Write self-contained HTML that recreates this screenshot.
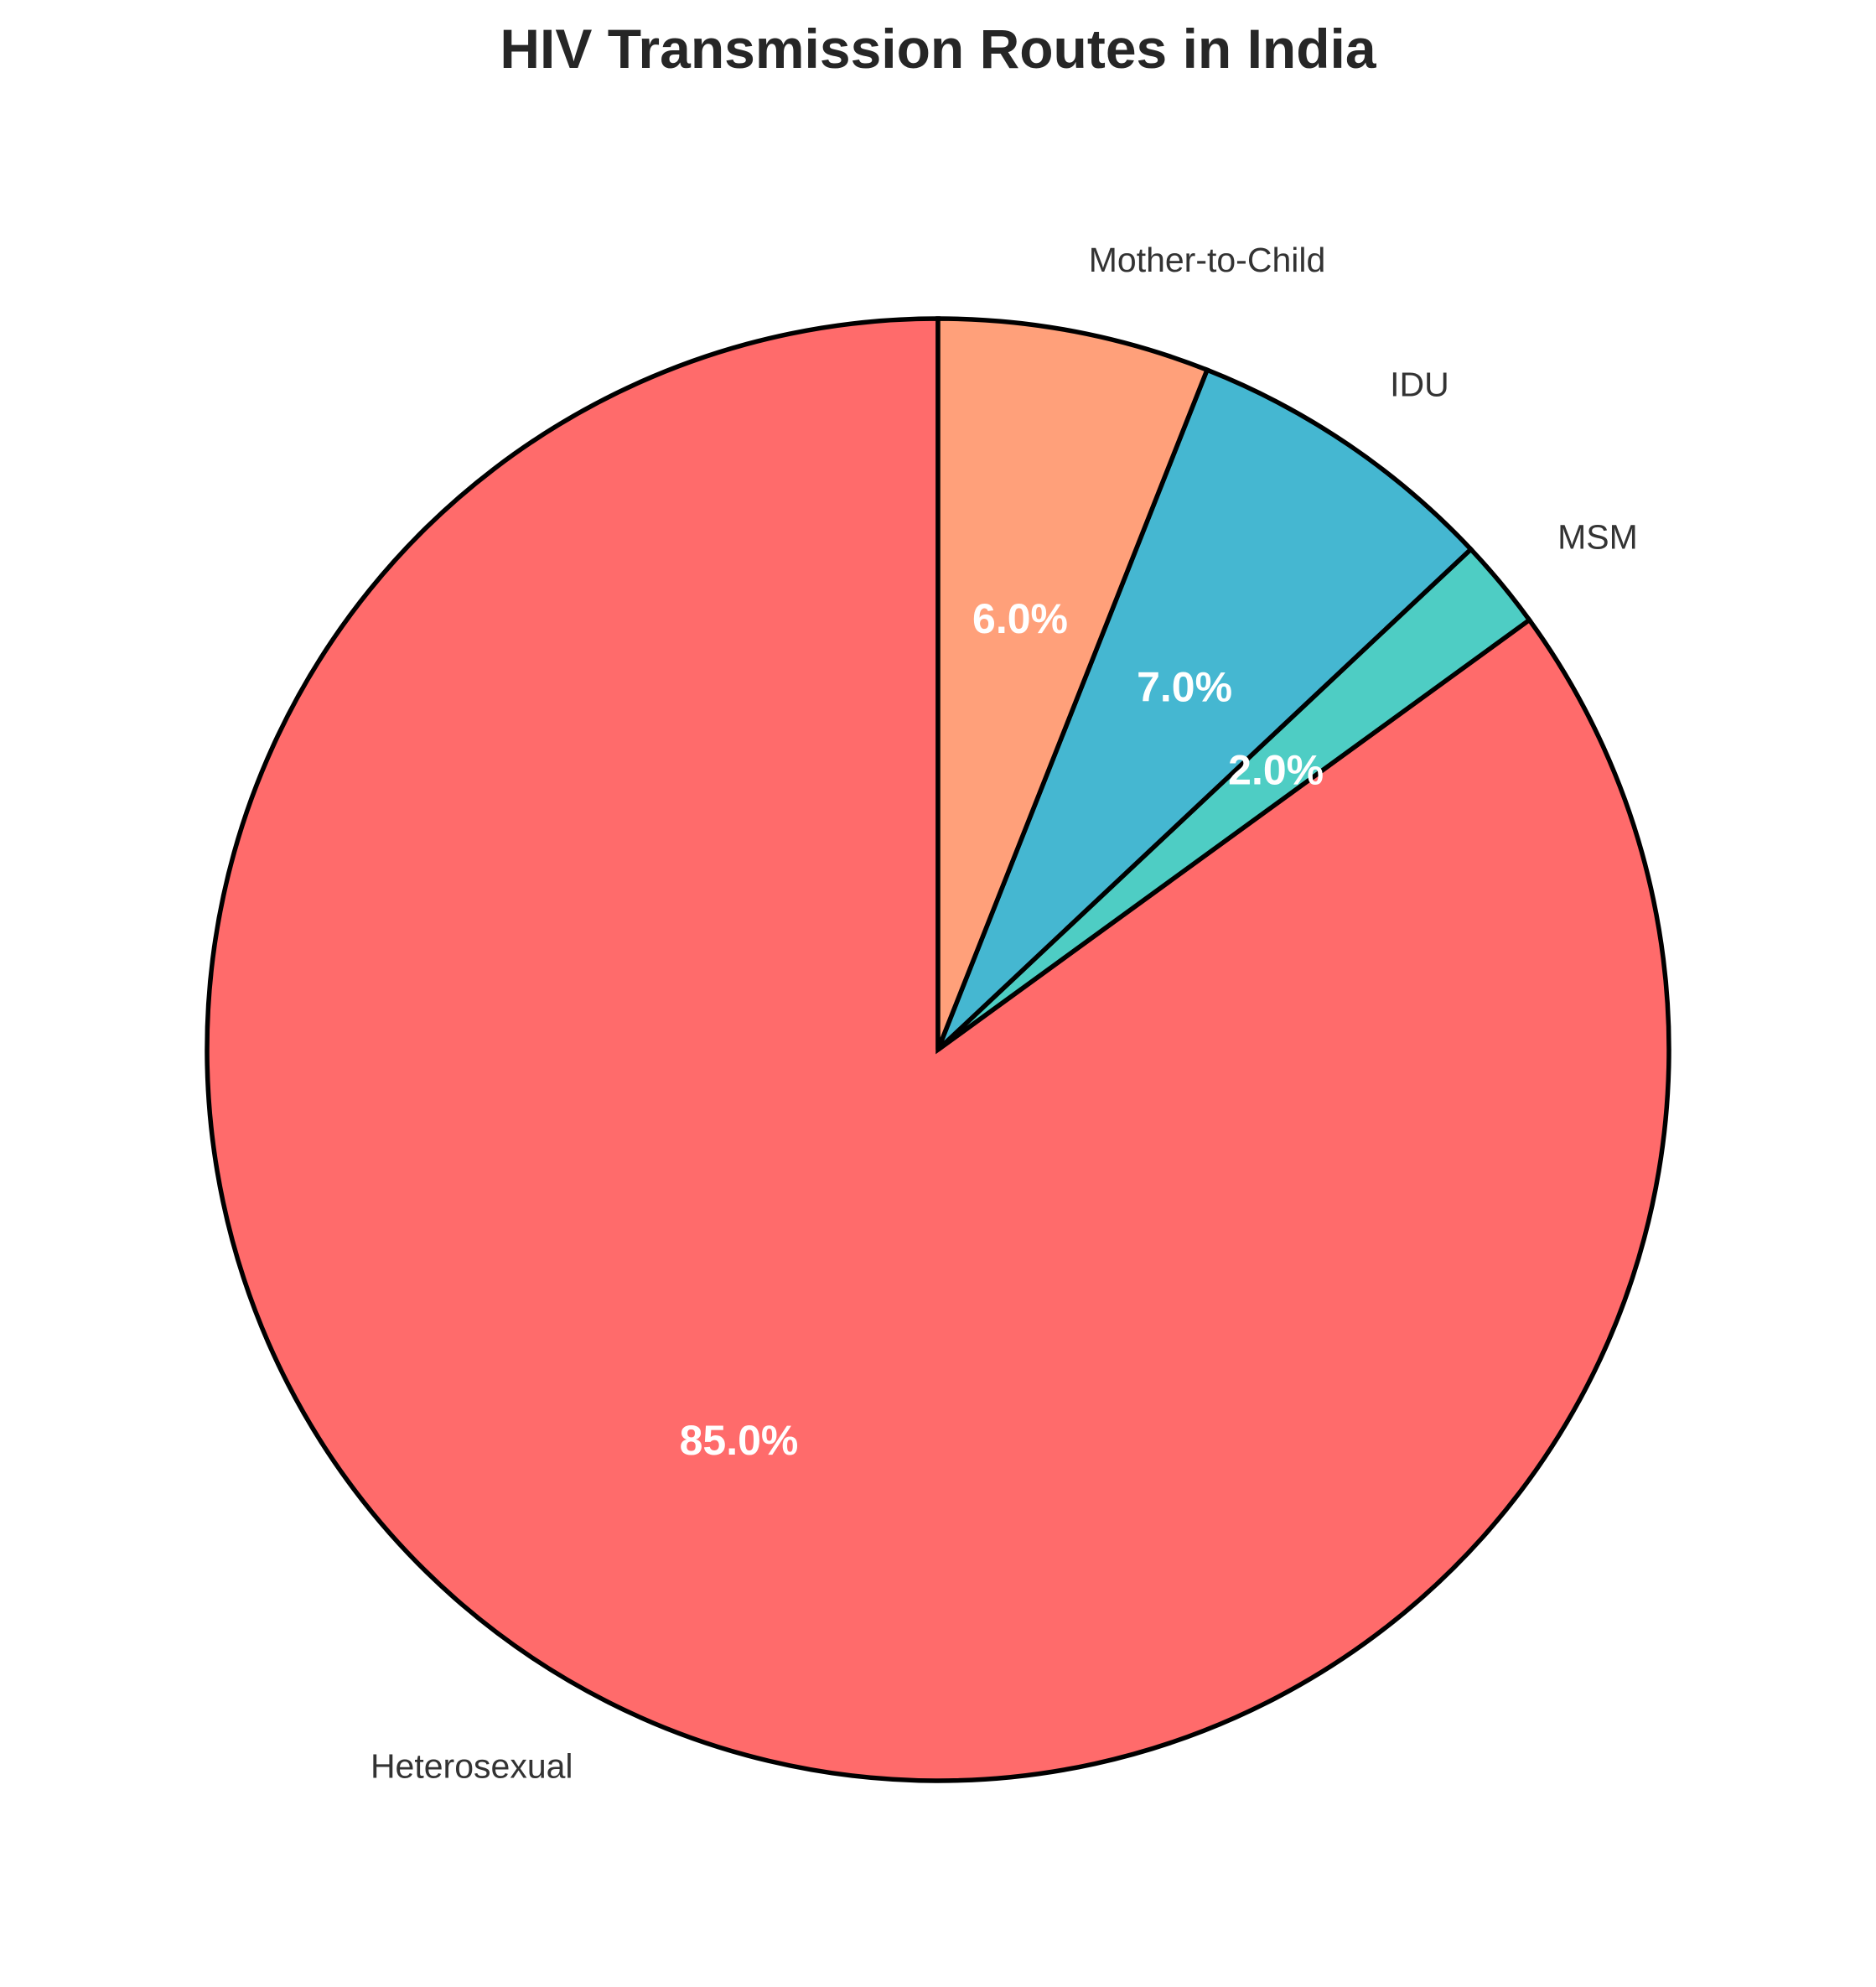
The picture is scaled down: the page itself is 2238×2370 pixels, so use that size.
<!DOCTYPE html>
<html><head><meta charset="utf-8"><style>
html,body{margin:0;padding:0;background:#fff}
svg{display:block}
</style></head><body>
<svg id="chart" width="2238" height="2370" viewBox="0 0 2238 2370">
<text x="1119" y="58" text-anchor="middle" dominant-baseline="central" font-family="Liberation Sans, sans-serif" font-weight="bold" font-size="66" fill="#262626">HIV Transmission Routes in India</text>
<g id="slices"></g>
<g id="labels"></g>
</svg>
<script>
const categories = ["Heterosexual", "MSM", "IDU", "Mother-to-Child"];
const values = [85, 2, 7, 6];
const colors = ["#FF6B6B", "#4ECDC4", "#45B7D1", "#FFA07A"];
const cx = 1127, cy = 1260, R = 878;
const NS = "http://www.w3.org/2000/svg";
const total = values.reduce((a,b)=>a+b,0);
const gS = document.getElementById("slices"), gL = document.getElementById("labels");
const CX = 1119, CY = 1252, RR = 872;
function pt(r, deg){ const a = deg*Math.PI/180; return [CX + r*Math.cos(a), CY - r*Math.sin(a)]; }
let start = 90;
values.forEach((v,i)=>{
  const sweep = v/total*360, end = start + sweep, mid = start + sweep/2;
  const p1 = pt(RR,start), p2 = pt(RR,end);
  const large = sweep > 180 ? 1 : 0;
  const path = document.createElementNS(NS,"path");
  path.setAttribute("d",`M${CX},${CY} L${p1[0]},${p1[1]} A${RR},${RR} 0 ${large} 0 ${p2[0]},${p2[1]} Z`);
  path.setAttribute("fill",colors[i]);
  path.setAttribute("stroke","#000");
  path.setAttribute("stroke-width","5.5");
  path.setAttribute("stroke-linejoin","miter");
  
  
  gS.appendChild(path);
  const lp = pt(RR*1.1, mid);
  const t = document.createElementNS(NS,"text");
  t.setAttribute("x",lp[0]); t.setAttribute("y",lp[1]);
  t.setAttribute("text-anchor", Math.cos(mid*Math.PI/180) >= 0 ? "start" : "end");
  t.setAttribute("dominant-baseline","central");
  t.setAttribute("font-family","Liberation Sans, sans-serif");
  t.setAttribute("font-size","41");
  t.setAttribute("fill","#333333");
  t.textContent = categories[i];
  
  
  gL.appendChild(t);
  const pp = pt(RR*0.6, mid);
  const p = document.createElementNS(NS,"text");
  p.setAttribute("x",pp[0]); p.setAttribute("y",pp[1]);
  p.setAttribute("text-anchor","middle");
  p.setAttribute("dominant-baseline","central");
  p.setAttribute("font-family","Liberation Sans, sans-serif");
  p.setAttribute("font-size","50");
  p.setAttribute("font-weight","bold");
  p.setAttribute("fill","#ffffff");
  p.textContent = (v/total*100).toFixed(1) + "%";
  
  
  gL.appendChild(p);
  start = end;
});
</script>
</body></html>
